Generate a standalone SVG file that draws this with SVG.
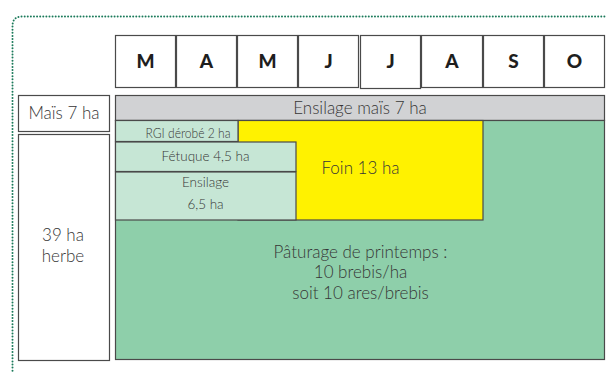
<svg xmlns="http://www.w3.org/2000/svg" width="606" height="372" viewBox="0 0 606 372">
<style>
.box{stroke:#4a4a4a;stroke-width:1.2}
.m{fill:#fff}
.t{font-family:Lato,"Open Sans",sans-serif;fill:#363636;text-anchor:middle;font-weight:300}
.b{font-size:17px}
.s{font-size:13.5px}
.mo{font-family:Lato,"Open Sans",sans-serif;font-weight:900;font-size:19px;fill:#1e1e1e;text-anchor:middle}
</style>
<rect width="606" height="372" fill="#fff"/>
<path id="frame" d="M12.5,380 V26 Q12.5,16.5 22,16.5 H620" fill="none" stroke="#1b7a5a" stroke-width="2" stroke-linecap="round" stroke-dasharray="0 3.1"/>
<g id="months">
<g id="m1"><rect class="box m" x="115.5" y="35.5" width="60" height="52"/><text class="mo" x="145.5" y="68">M</text></g>
<g id="m2"><rect class="box m" x="176.5" y="35.5" width="60" height="52"/><text class="mo" x="206.5" y="68">A</text></g>
<g id="m3"><rect class="box m" x="237.5" y="35.5" width="60" height="52"/><text class="mo" x="267.5" y="68">M</text></g>
<g id="m4"><rect class="box m" x="298.5" y="35.5" width="60" height="52"/><text class="mo" x="328.5" y="68">J</text></g>
<g id="m5"><rect class="box m" x="360.5" y="35.5" width="60" height="53" stroke="#777" stroke-width="1.2"/><text class="mo" x="390.5" y="68">J</text></g>
<g id="m6"><rect class="box m" x="421.5" y="35.5" width="61" height="52"/><text class="mo" x="452" y="68">A</text></g>
<g id="m7"><rect class="box m" x="483.5" y="35.5" width="60" height="52"/><text class="mo" x="513.5" y="68">S</text></g>
<g id="m8"><rect class="box m" x="544.5" y="35.5" width="60" height="52"/><text class="mo" x="574.5" y="68">O</text></g>
</g>
<g id="mais"><rect class="box m" x="18.5" y="95.5" width="91" height="36"/><text class="t b" x="64" y="119">Maïs 7 ha</text></g>
<g id="herbe"><rect class="box m" x="18.5" y="134.5" width="91" height="226"/><text class="t b" x="63" y="241">39 ha</text><text class="t b" x="63" y="262">herbe</text></g>
<g id="ensilage-mais"><rect class="box" x="115.5" y="95.5" width="489" height="25" fill="#d1d2d4"/><text class="t b" x="360" y="113.5">Ensilage maïs 7 ha</text></g>
<g id="paturage"><rect class="box" x="115.5" y="120.5" width="489" height="239" fill="#8ecfaa"/><text class="t b" x="360.5" y="257.5">Pâturage de printemps :</text><text class="t b" x="360.5" y="278">10 brebis/ha</text><text class="t b" x="360.5" y="298.5">soit 10 ares/brebis</text></g>
<g id="foin"><rect class="box" x="238" y="120.5" width="245" height="99.5" fill="#fff200"/><text class="t b" x="360.5" y="173.5">Foin 13 ha</text></g>
<g id="rgi"><rect class="box" x="115.5" y="120.5" width="122.5" height="21" fill="#c6e6d5"/><text class="t" x="188" y="137.5" font-size="14" textLength="85" lengthAdjust="spacingAndGlyphs">RGI dérobé 2 ha</text></g>
<g id="fetuque"><rect class="box" x="115.5" y="142" width="180.5" height="29.5" fill="#c6e6d5"/><text class="t s" x="205.5" y="160.5">Fétuque 4,5 ha</text></g>
<g id="ensilage"><rect class="box" x="115.5" y="172" width="180.5" height="48" fill="#c6e6d5"/><text class="t s" x="205.5" y="187">Ensilage</text><text class="t s" x="205.5" y="209">6,5 ha</text></g>
<g id="connectors"/>
</svg>
